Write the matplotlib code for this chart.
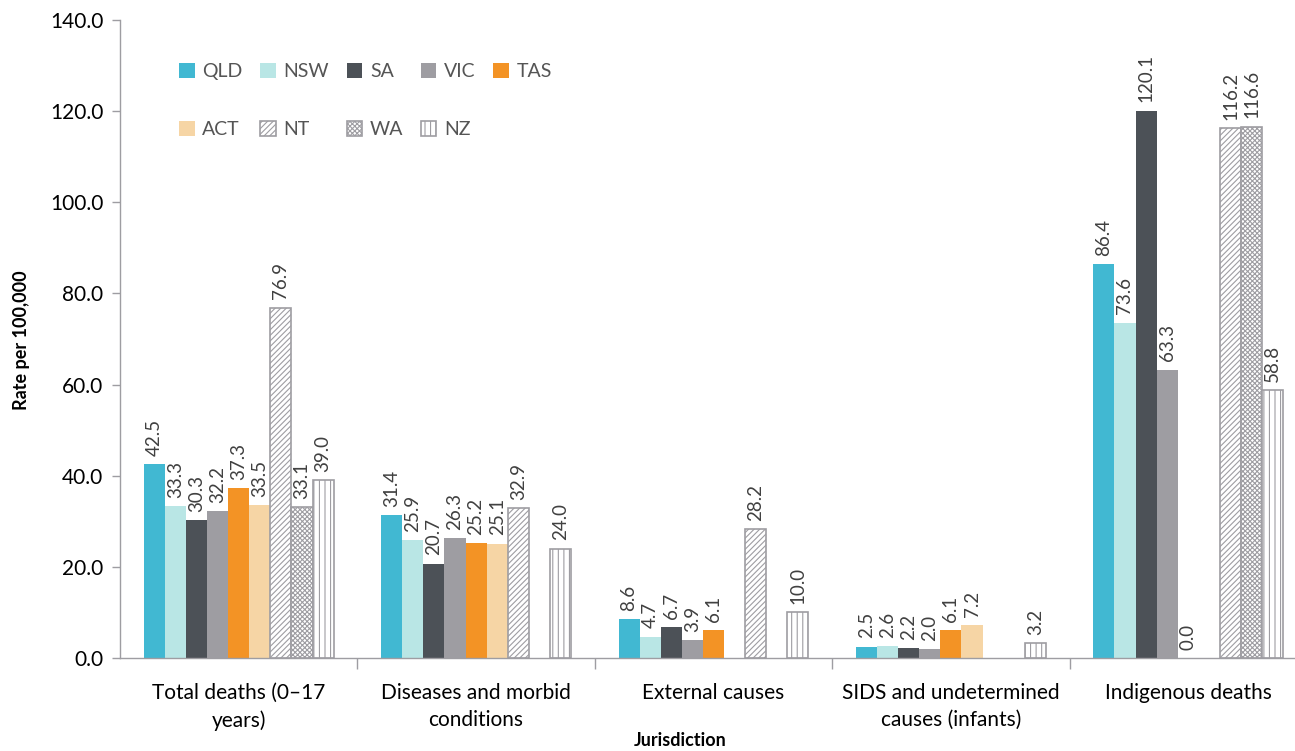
import numpy as np
import matplotlib
matplotlib.use('Agg')
import matplotlib.pyplot as plt

plt.rcParams['font.family'] = ['Lato', 'DejaVu Sans']
plt.rcParams['hatch.linewidth'] = 0.8

categories = ['Total deaths (0\u201317\nyears)', 'Diseases and morbid\nconditions',
              'External causes', 'SIDS and undetermined\ncauses (infants)', 'Indigenous deaths']
series = ['QLD', 'NSW', 'SA', 'VIC', 'TAS', 'ACT', 'NT', 'WA', 'NZ']

# None = no bar / no label
QLD = [42.5, 31.4, 8.6, 2.5, 86.4]
NSW = [33.3, 25.9, 4.7, 2.6, 73.6]
SA = [30.3, 20.7, 6.7, 2.2, 120.1]
VIC = [32.2, 26.3, 3.9, 2.0, 63.3]
TAS = [37.3, 25.2, 6.1, 6.1, 0.0]
ACT = [33.5, 25.1, None, 7.2, None]
NT = [76.9, 32.9, 28.2, None, 116.2]
WA = [33.1, None, None, None, 116.6]
NZ = [39.0, 24.0, 10.0, 3.2, 58.8]
values = [QLD, NSW, SA, VIC, TAS, ACT, NT, WA, NZ]

grey = '#9E9DA2'
styles = [
    dict(color='#41B8D2'),
    dict(color='#B9E6E5'),
    dict(color='#4C5157'),
    dict(color='#9E9DA2'),
    dict(color='#F39325'),
    dict(color='#F6D5A5'),
    dict(facecolor='white', edgecolor=grey, hatch='//////', linewidth=1.2),
    dict(facecolor='white', edgecolor=grey, hatch='xxxxxxx', linewidth=1.2),
    dict(facecolor='white', edgecolor=grey, hatch='|||', linewidth=1.2),
]

text_col = '#404040'
fig = plt.figure(figsize=(12.95, 7.51), dpi=100)
ax = fig.add_axes([120 / 1295, 93 / 751, 1187 / 1295, 638 / 751])

x = np.arange(len(categories))
w = 0.8 / len(series)
handles = []
for i, (name, vals, st) in enumerate(zip(series, values, styles)):
    xs = [xi + (i - 4) * w for xi, v in zip(x, vals) if v is not None]
    vs = [v for v in vals if v is not None]
    h = ax.bar(xs, vs, width=w, label=name, **st)
    handles.append(h)
    for xi, v in zip(xs, vs):
        ax.text(xi, v + 1.8, f'{v:.1f}', rotation=90, ha='center', va='bottom',
                fontsize=13.5, color=text_col)

ax.set_xlim(-0.5, len(categories) - 0.5)
ax.set_ylim(0, 140)
ax.set_yticks(np.arange(0, 141, 20))
ax.set_yticklabels([f'{t:.1f}' for t in np.arange(0, 141, 20)], fontsize=15, color='black')
ax.set_xticks(x)
ax.set_xticklabels(categories, fontsize=15, color='black', linespacing=1.45)
ax.set_xticks(np.arange(0.5, len(categories) - 0.5, 1), minor=True)
ax.tick_params(axis='x', which='major', length=0, pad=18)
ax.tick_params(axis='x', which='minor', length=8, color=grey, width=1)
ax.tick_params(axis='y', length=6, color=grey, width=1, pad=6)

for s in ['top', 'right']:
    ax.spines[s].set_visible(False)
for s in ['left', 'bottom']:
    ax.spines[s].set_color(grey)
    ax.spines[s].set_linewidth(1)

fig.text(22 / 1295, 1 - 340 / 751, 'Rate per 100,000', rotation=90, ha='center', va='center',
         fontsize=13, fontweight='bold', color='black')
fig.text(680 / 1295, 1 - 741 / 751, 'Jurisdiction', ha='center', va='center',
         fontsize=13, fontweight='bold', color='black')

# legend fills column-wise; reorder so it reads row-wise like the original
order = [0, 5, 1, 6, 2, 7, 3, 8, 4]
ax.legend([handles[k] for k in order], [series[k] for k in order],
          loc='upper left', bbox_to_anchor=(0.035, 0.96), ncol=5, frameon=False,
          fontsize=14, handlelength=0.8, handleheight=0.8, handletextpad=0.4,
          columnspacing=0.9, labelspacing=2.1, labelcolor='#555555')

fig.savefig('out.png', dpi=100)
